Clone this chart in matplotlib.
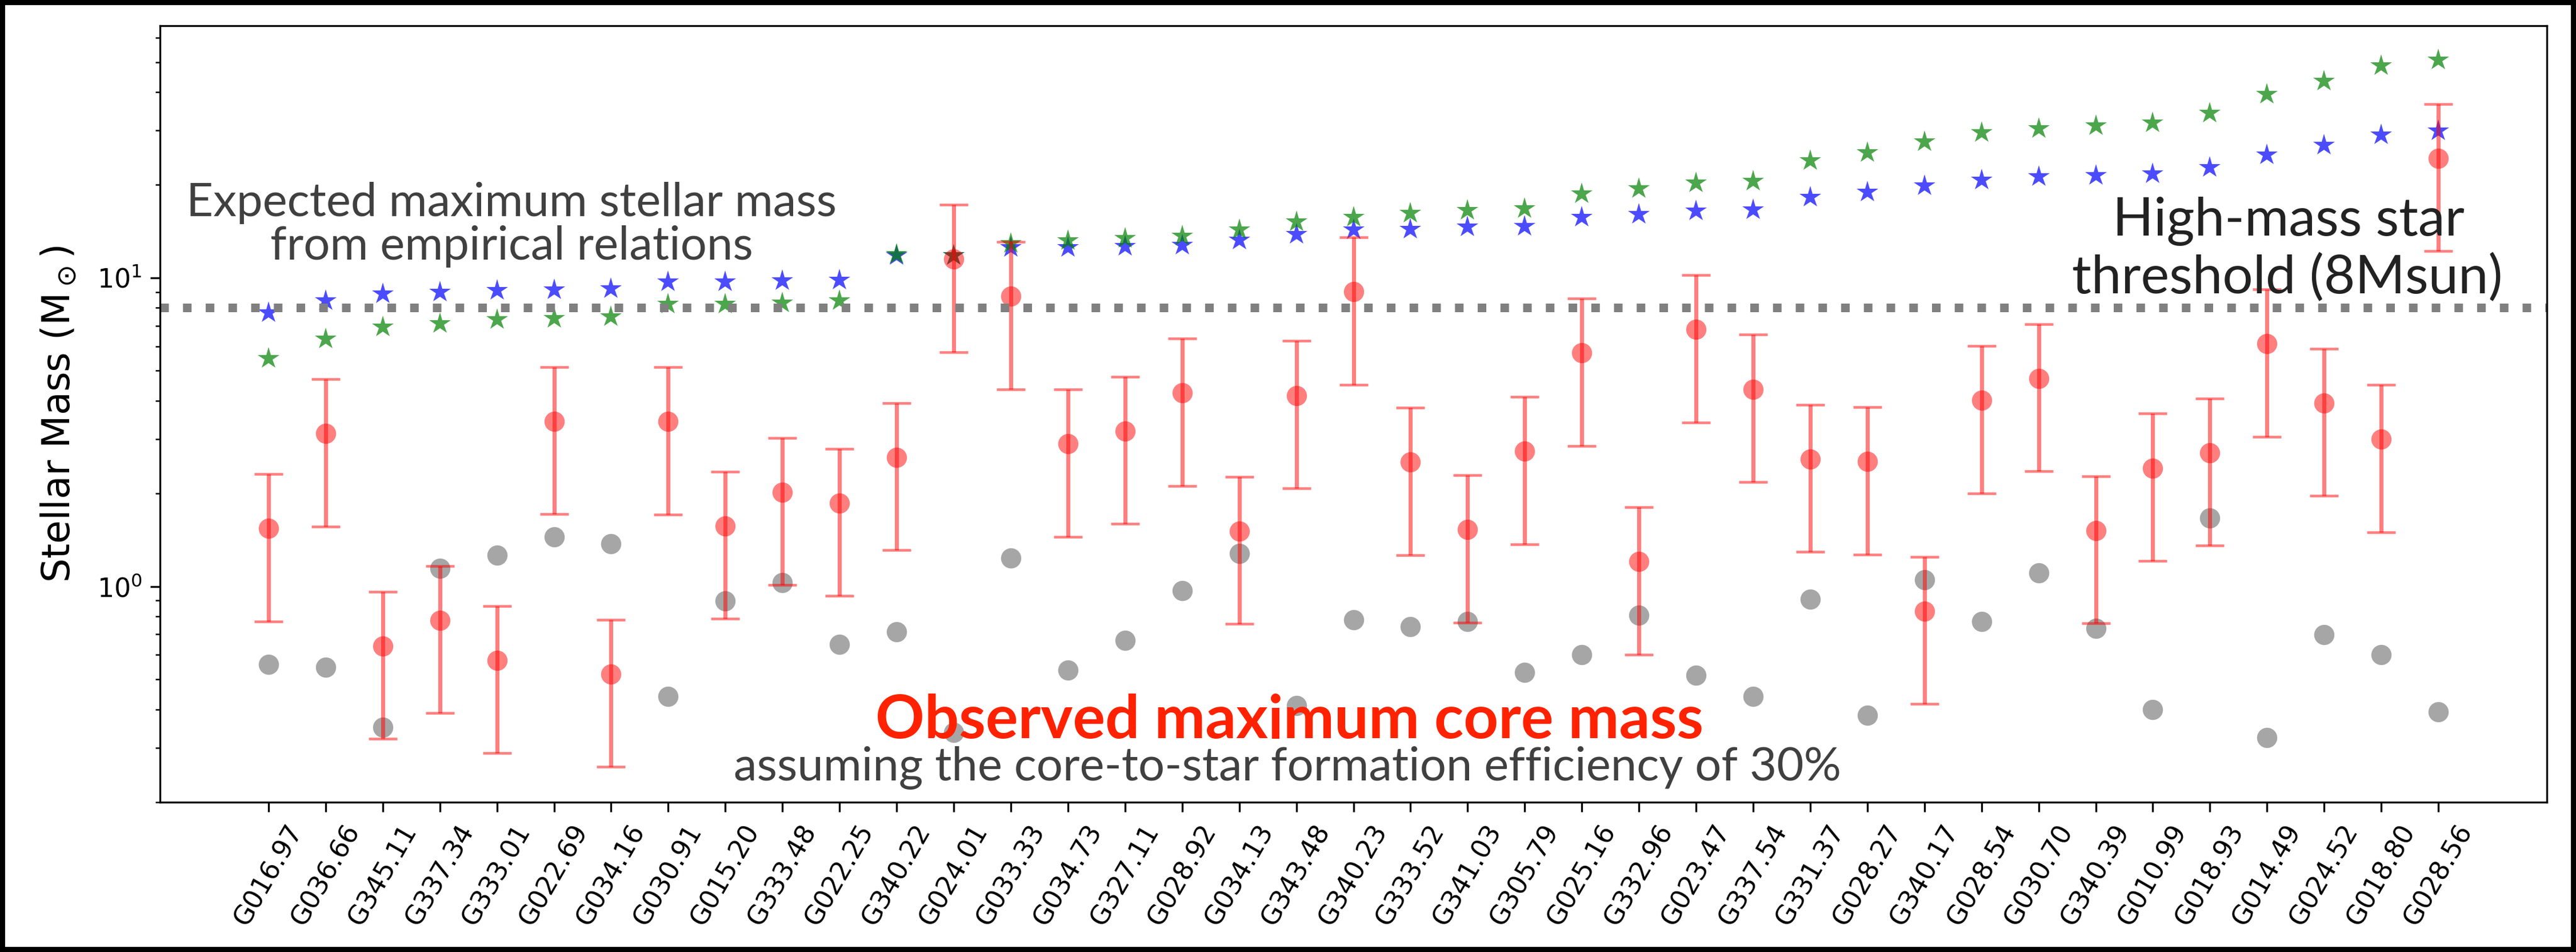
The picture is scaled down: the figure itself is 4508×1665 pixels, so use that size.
import numpy as np
import matplotlib
matplotlib.use('Agg')
import matplotlib.pyplot as plt

# source names along the x axis
names = ['G016.97', 'G036.66', 'G345.11', 'G337.34', 'G333.01', 'G022.69', 'G034.16',
         'G030.91', 'G015.20', 'G333.48', 'G022.25', 'G340.22', 'G024.01', 'G033.33',
         'G034.73', 'G327.11', 'G028.92', 'G034.13', 'G343.48', 'G340.23', 'G333.52',
         'G341.03', 'G305.79', 'G025.16', 'G332.96', 'G023.47', 'G337.54', 'G331.37',
         'G028.27', 'G340.17', 'G028.54', 'G030.70', 'G340.39', 'G010.99', 'G018.93',
         'G014.49', 'G024.52', 'G018.80', 'G028.56']

# expected maximum stellar mass (two empirical relations)
mstar_blue = [7.72, 8.42, 8.88, 8.98, 9.12, 9.16, 9.23, 9.70, 9.70, 9.77, 9.84, 11.8, 11.8,
              12.56, 12.56, 12.66, 12.76, 13.25, 13.82, 14.29, 14.35, 14.63, 14.69, 15.73,
              16.03, 16.46, 16.59, 18.24, 18.95, 19.84, 20.77, 21.24, 21.48, 21.74, 22.75,
              25.02, 26.9, 29.0, 29.9]
mstar_green = [5.48, 6.33, 6.94, 7.10, 7.32, 7.40, 7.48, 8.20, 8.23, 8.29, 8.42, 11.9, 11.8,
               12.90, 13.20, 13.4, 13.66, 14.29, 15.19, 15.73, 16.21, 16.52, 16.72, 18.73,
               19.46, 20.30, 20.6, 23.99, 25.5, 27.6, 29.6, 30.4, 31.1, 31.8, 34.1,
               39.4, 43.3, 48.7, 50.8]

# observed maximum core mass x 30% efficiency
core_mass = [1.54, 3.13, 0.642, 0.777, 0.577, 3.43, 0.521, 3.42, 1.572, 2.02, 1.865, 2.62, 11.5,
             8.72, 2.90, 3.19, 4.24, 1.512, 4.16, 9.02, 2.53, 1.53, 2.74, 5.71,
             1.204, 6.80, 4.36, 2.59, 2.54, 0.832, 4.01, 4.72, 1.519, 2.42, 2.71,
             6.12, 3.93, 3.00, 24.4]

# grey points
gray_mass = [0.560, 0.547, 0.349, 1.146, 1.265, 1.445, 1.375, 0.440, 0.898, 1.03, 0.650, 0.714, 0.336,
             1.236, 0.535, 0.670, 0.969, 1.279, 0.411, 0.780, 0.742, 0.771, 0.527, 0.602,
             0.807, 0.515, 0.440, 0.908, 0.383, 1.053, 0.771, 1.107, 0.731, 0.40, 1.664,
             0.324, 0.698, 0.602, 0.393]

x = np.arange(len(names))
core_mass = np.array(core_mass)

W, H = 4508, 1665
fig = plt.figure(figsize=(W / 300, H / 300), dpi=300)
fig.patch.set_edgecolor('black')
fig.patch.set_linewidth(4.3)
ax = fig.add_axes([280 / W, 1 - 1403 / H, (4457 - 280) / W, (1403 - 45) / H])

ax.plot(x, gray_mass, 'o', color='gray', alpha=0.7, ms=8.5, mew=0)
ax.plot(x, mstar_blue, '*', color='blue', alpha=0.7, ms=9.5, mew=0)
ax.plot(x, mstar_green, '*', color='green', alpha=0.7, ms=9.5, mew=0)
ax.errorbar(x, core_mass, yerr=0.5 * core_mass, fmt='none', ecolor='red', alpha=0.5,
            elinewidth=1.7, capsize=6, capthick=1.1)
ax.plot(x, core_mass, 'o', color='red', alpha=0.5, ms=8.5, mew=0)
ax.axhline(8, color='gray', ls=':', lw=3.6)

ax.set_yscale('log')
ax.set_ylim(0.2, 65.6)
ax.set_xlim(-1.9, 39.9)
ax.set_xticks(x)
ax.set_xticklabels(names, rotation=60, fontsize=11)
ax.tick_params(axis='y', labelsize=11)
ax.tick_params(axis='both', which='major', length=4)
ax.set_ylabel(r'Stellar Mass (M$_\odot$)', fontsize=16, labelpad=8)

fam = ['Lato', 'DejaVu Sans']
def ftext(px, py, s, **kw):
    fig.text(px / W, 1 - py / H, s, ha='center', va='baseline', family=fam, **kw)

ftext(895, 378, 'Expected maximum stellar mass', fontsize=19.6, color='#404040')
ftext(895, 454, 'from empirical relations', fontsize=19.6, color='#404040')
ftext(4005, 412, 'High-mass star', fontsize=22.6, color='#222222')
ftext(4003, 513, 'threshold (8Msun)', fontsize=22.6, color='#222222')
ftext(2257, 1291, 'Observed maximum core mass', fontsize=25.5, color='#ff2200', weight='bold')
ftext(2253, 1365, 'assuming the core-to-star formation efficiency of 30%', fontsize=19.6,
      color='#404040')

plt.savefig('out.png', dpi=300)
